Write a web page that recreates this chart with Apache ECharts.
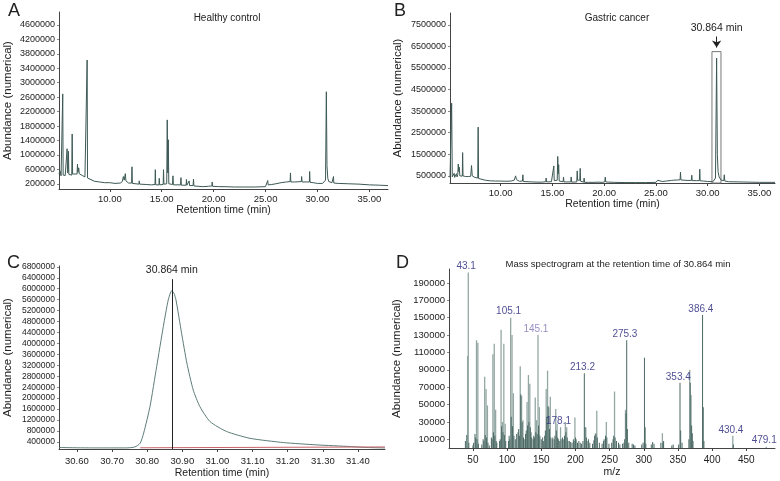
<!DOCTYPE html>
<html>
<head>
<meta charset="utf-8">
<script src="https://cdn.jsdelivr.net/npm/echarts@6/dist/echarts.min.js"></script>
<style>
html,body{margin:0;padding:0;background:#fff;}
#c{width:780px;height:481px;}
</style>
</head>
<body>
<div id="c"></div>
<script>
// Panel A: healthy control chromatogram
var timeA = [5.10,5.20,5.30,5.42,5.46,5.50,5.60,5.70,5.84,5.88,5.93,5.98,6.01,6.05,6.20,6.33,6.37,6.41,6.60,6.84,6.88,6.93,7.00,7.05,7.20,7.40,7.60,7.78,7.81,7.85,8.00,8.50,9.00,9.50,10.00,10.50,11.00,11.20,11.30,11.38,11.45,11.49,11.55,11.80,12.10,12.13,12.17,12.80,12.83,12.87,13.50,14.00,14.35,14.38,14.42,14.73,14.76,14.80,15.14,15.17,15.21,15.48,15.53,15.58,15.63,15.68,16.04,16.08,16.12,16.81,16.85,16.89,17.35,17.38,17.42,17.60,17.64,17.68,18.02,18.06,18.10,18.50,19.00,19.50,19.83,19.86,19.90,20.50,21.00,22.00,23.00,24.00,25.00,25.18,25.21,25.25,25.60,26.00,26.50,27.00,27.37,27.40,27.44,27.80,28.45,28.48,28.52,28.80,29.22,29.25,29.29,29.60,30.00,30.50,30.78,30.86,30.92,31.00,31.10,31.40,31.52,31.55,31.58,32.00,33.00,34.00,35.00,36.00,36.80];
var abundA = [480000,560000,420000,430000,2690000,440000,400000,430000,430000,1170000,500000,560000,1100000,460000,440000,440000,1580000,470000,460000,470000,740000,520000,640000,480000,460000,420000,390000,370000,3630000,360000,330000,270000,250000,230000,230000,210000,220000,260000,400000,300000,350000,480000,280000,220000,220000,670000,210000,190000,280000,190000,180000,170000,180000,590000,170000,170000,350000,170000,180000,590000,190000,200000,1970000,500000,1420000,200000,180000,420000,170000,170000,370000,160000,160000,320000,160000,160000,280000,150000,150000,330000,140000,130000,120000,130000,140000,250000,130000,120000,120000,110000,110000,110000,120000,140000,290000,170000,180000,200000,230000,250000,260000,500000,250000,250000,260000,400000,250000,250000,250000,540000,240000,230000,210000,210000,300000,2750000,700000,350000,260000,230000,220000,400000,220000,210000,200000,190000,170000,160000,150000];

// Panel B: gastric cancer chromatogram
var timeB = [5.10,5.20,5.26,5.32,5.45,5.50,5.55,5.65,5.72,5.78,5.85,5.90,5.95,6.00,6.05,6.20,6.29,6.32,6.36,6.60,6.90,7.10,7.18,7.25,7.50,7.78,7.82,7.86,8.00,8.50,9.00,9.50,10.00,10.50,11.00,11.30,11.44,11.52,11.80,12.10,12.14,12.18,13.00,13.50,14.00,14.35,14.39,14.43,14.90,15.09,15.13,15.17,15.46,15.51,15.56,15.60,15.65,16.03,16.07,16.11,16.77,16.81,16.85,17.35,17.39,17.43,17.64,17.68,17.72,18.02,18.06,18.10,18.50,19.00,19.40,19.45,19.50,19.80,20.05,20.10,20.15,20.45,20.50,20.55,21.00,22.00,23.00,24.00,25.00,25.12,25.16,25.20,25.60,26.00,26.50,26.70,26.73,26.77,27.10,27.33,27.37,27.41,28.00,28.42,28.46,28.50,28.90,29.19,29.23,29.27,29.60,30.00,30.50,30.75,30.86,30.93,31.00,31.10,31.30,31.55,31.60,31.65,32.00,33.00,34.00,35.00,36.50];
var abundB = [420000,480000,3870000,450000,450000,620000,430000,440000,600000,450000,560000,1050000,700000,900000,500000,480000,490000,1580000,500000,470000,470000,480000,980000,500000,430000,400000,2760000,380000,330000,300000,270000,260000,260000,250000,260000,300000,500000,330000,250000,260000,550000,240000,220000,210000,210000,230000,400000,220000,230000,240000,960000,280000,300000,1400000,600000,1020000,260000,230000,450000,220000,220000,450000,210000,220000,730000,300000,300000,850000,250000,210000,400000,200000,200000,200000,210000,300000,200000,200000,220000,440000,220000,210000,300000,200000,200000,190000,190000,190000,200000,210000,300000,220000,240000,260000,290000,300000,360000,300000,310000,320000,670000,310000,290000,290000,530000,280000,280000,280000,810000,270000,260000,240000,230000,400000,5960000,1500000,700000,450000,300000,280000,550000,260000,230000,220000,210000,200000,200000];

// Panel C: zoomed peak
var timeC = [30.55,30.60,30.65,30.70,30.74,30.765,30.78,30.79,30.808,30.827,30.846,30.86,30.870,30.876,30.882,30.898,30.913,30.931,30.95,30.979,31.026,31.093,31.188,31.283,31.378,31.425,31.477];
var abundC = [195000,185000,180000,180000,180000,215000,350000,720000,1690000,3150000,4620000,5590000,5930000,5840000,5590000,4370000,3280000,2300000,1690000,1140000,780000,530000,375000,290000,230000,195000,180000];
var baseC_t = [30.78,31.477];
var baseC_v = [185000,215000];

// Panel D: mass spectrum
var lightMz = [42,43,55,57,67,69,71,79,81,83,91,93,95,97,105,107,109,119,121,123,129,131,133,141,143,145,147,157,159,161,163,171,173,178,185,187,199,215,229,231,245,257,273,327,367,369,430,479];
var lightVal = [106000,202000,124000,121000,82000,68000,49000,108000,120000,44000,136000,30000,120000,28000,150000,130000,63000,94000,60000,32000,53000,84000,74000,58000,32000,130000,47000,68000,89000,47000,59000,45000,28000,24000,30000,24000,35000,24000,17000,43000,30000,65000,44000,17000,90000,61000,14000,1500];
var darkMz = [39,41,44,50,51,53,54,56,58,63,65,66,68,70,72,74,77,78,80,82,84,85,89,90,92,94,96,98,102,103,104,106,108,110,112,114,116,117,118,120,122,124,126,127,128,130,132,134,135,136,138,139,140,142,144,146,148,150,152,153,155,156,158,160,162,164,166,167,169,170,172,174,175,177,179,181,183,184,186,188,189,191,193,195,197,198,200,201,203,205,207,209,211,213,214,216,217,219,221,225,227,228,230,232,235,239,241,242,244,246,249,253,255,256,258,260,263,265,269,271,272,274,275,276,278,283,285,287,297,299,301,302,303,311,313,315,325,328,329,341,343,351,353,354,356,366,368,370,371,372,386,387,388,431];
var darkVal = [8000,15000,6000,3000,6000,16000,12000,10000,5000,4000,10000,8000,15000,12000,6000,3000,12000,10000,18000,14000,8000,6000,8000,10000,25000,18000,15000,8000,8000,14000,10000,36000,25000,14000,10000,16000,18000,22000,14000,62000,30000,12000,10000,16000,20000,26000,30000,24000,18000,12000,10000,14000,12000,18000,16000,26000,14000,10000,12000,8000,14000,20000,36000,48000,22000,12000,10000,12000,10000,14000,20000,12000,10000,8000,10000,12000,10000,14000,18000,12000,8000,8000,7000,6000,10000,8000,12000,10000,6000,8000,6000,5000,8000,86000,24000,12000,8000,10000,6000,5000,9000,14000,16000,12000,6000,5000,8000,10000,14000,12000,5000,6000,10000,14000,12000,8000,6000,4000,5000,6000,10000,40000,124000,22000,6000,5000,4000,3000,4000,6000,104000,24000,5000,4000,7000,5000,6000,6000,8000,3000,4000,4000,75000,20000,6000,10000,75000,26000,17000,8000,153000,47000,8000,4000];
var peakLabelMz = [43.1,105.1,145.1,178.1,213.2,275.3,353.4,386.4,430.4,479.1];
var peakLabelVal = [202000,150000,130000,24000,86000,124000,75000,153000,14000,1500];

// tick labels
var ticksA_x = [10,15,20,25,30,35];
var ticksA_y = [200000,600000,1000000,1400000,1800000,2200000,2600000,3000000,3400000,3800000,4200000,4600000];
var ticksB_y = [500000,1500000,2500000,3500000,4500000,5500000,6500000,7500000];
var ticksC_x = [30.6,30.7,30.8,30.9,31.0,31.1,31.2,31.3,31.4];
var ticksC_y = [400000,800000,1200000,1600000,2000000,2400000,2800000,3200000,3600000,4000000,4400000,4800000,5200000,5600000,6000000,6400000,6800000];
var ticksD_x = [50,100,150,200,250,300,350,400,450];
var ticksD_y = [10000,30000,50000,70000,90000,110000,130000,150000,170000,190000];

function zip(a, b) { return a.map(function (v, i) { return [v, b[i]]; }); }

var FONT = 'Liberation Sans, Arial, sans-serif';
var AX = '#444';
var TXT = '#222';
var plain = function (v) { return String(Math.round(v)); };
var fmt2 = function (v) { return v.toFixed(2); };

function xAx(grid, min, max, ticks, fmt, fs, margin, name, nameGap) {
  return {
    type: 'value', gridIndex: grid, min: min, max: max,
    name: name, nameLocation: 'middle', nameGap: nameGap,
    nameTextStyle: { fontSize: 10.5, color: TXT, fontFamily: FONT },
    axisLine: { lineStyle: { color: AX, width: 1 } },
    axisTick: { show: true, customValues: ticks, length: 3, lineStyle: { color: AX } },
    axisLabel: { customValues: ticks, formatter: fmt, fontSize: fs, color: TXT, fontFamily: FONT, margin: margin },
    splitLine: { show: false }
  };
}
function yAx(grid, min, max, ticks, fs, nameGap) {
  return {
    type: 'value', gridIndex: grid, min: min, max: max,
    name: 'Abundance (numerical)', nameLocation: 'middle', nameGap: nameGap, nameRotate: 90,
    nameTextStyle: { fontSize: 11.5, color: TXT, fontFamily: FONT },
    axisLine: { show: true, lineStyle: { color: AX, width: 1 } },
    axisTick: { show: true, customValues: ticks, length: 2, lineStyle: { color: '#888' } },
    axisLabel: { customValues: ticks, formatter: plain, fontSize: fs, color: TXT, fontFamily: FONT, margin: 4 },
    splitLine: { show: false }
  };
}

var chart = echarts.init(document.getElementById('c'), null, { renderer: 'canvas' });
var letter = { fontSize: 18, fontWeight: 'normal', color: TXT, fontFamily: FONT };
var ttl = { fontSize: 10, fontWeight: 'normal', color: TXT, fontFamily: FONT };
var labelColors = peakLabelMz.map(function (m, i) { return i === 2 ? '#7a70b5' : '#22227a'; });

var option = {
  animation: false,
  backgroundColor: '#fff',
  textStyle: { fontFamily: FONT },
  title: [
    { text: 'A', left: 3, top: -3, textStyle: letter },
    { text: 'B', left: 389, top: -3, textStyle: letter },
    { text: 'C', left: 2, top: 249, textStyle: letter },
    { text: 'D', left: 391, top: 249, textStyle: letter },
    { text: 'Healthy control', left: 222, top: 8, textAlign: 'center', textStyle: ttl },
    { text: 'Gastric cancer', left: 612, top: 8, textAlign: 'center', textStyle: ttl },
    { text: 'Mass spectrogram at the retention time of 30.864 min', left: 613, top: 254, textAlign: 'center', textStyle: { fontSize: 9.5, fontWeight: 'normal', color: TXT, fontFamily: FONT } }
  ],
  grid: [
    { left: 59, top: 12, width: 329, height: 177 },
    { left: 450, top: 13, width: 325, height: 170 },
    { left: 59, top: 266, width: 326, height: 183 },
    { left: 449, top: 269, width: 326, height: 179 }
  ],
  xAxis: [
    xAx(0, 5.1, 36.8, ticksA_x, fmt2, 9.5, 5, 'Retention time (min)', 16),
    xAx(1, 5.1, 36.5, ticksA_x, fmt2, 9.5, 5, 'Retention time (min)', 16),
    xAx(2, 30.549, 31.477, ticksC_x, fmt2, 9.5, 7, 'Retention time (min)', 19),
    xAx(3, 15, 492, ticksD_x, plain, 10, 7, 'm/z', 19)
  ],
  yAxis: [
    yAx(0, 55000, 4960000, ticksA_y, 9, 45),
    yAx(1, 170000, 8050000, ticksB_y, 9, 46),
    yAx(2, 140000, 6830000, ticksC_y, 8.5, 45),
    yAx(3, 0, 206000, ticksD_y, 9.5, 46)
  ],
  series: [
    {
      type: 'line', xAxisIndex: 0, yAxisIndex: 0, data: zip(timeA, abundA),
      symbol: 'none', lineStyle: { color: '#3d5955', width: 1 }
    },
    {
      type: 'line', xAxisIndex: 1, yAxisIndex: 1, data: zip(timeB, abundB), clip: false,
      symbol: 'none', lineStyle: { color: '#3d5955', width: 1 },
      markArea: {
        silent: true,
        itemStyle: { color: 'rgba(0,0,0,0)', borderColor: '#777', borderWidth: 1 },
        data: [[{ coord: [30.41, 0] }, { coord: [31.28, 6260000] }]]
      },
      markLine: {
        silent: true, symbol: ['none', 'arrow'], symbolSize: 7,
        lineStyle: { color: '#222', width: 1, type: 'solid' },
        label: { show: true, position: 'start', formatter: '30.864 min', fontSize: 10.5, color: TXT, fontFamily: FONT, distance: 3 },
        data: [[{ coord: [30.86, 6960000], symbol: 'none' }, { coord: [30.86, 6450000], symbol: 'arrow', symbolSize: 7 }]]
      }
    },
    {
      type: 'line', xAxisIndex: 2, yAxisIndex: 2, data: zip(timeC, abundC),
      symbol: 'none', smooth: 0.2, lineStyle: { color: '#5d7c77', width: 1 },
      markLine: {
        silent: true, symbol: 'none',
        lineStyle: { color: '#222', width: 1, type: 'solid' },
        label: { show: true, position: 'end', formatter: '30.864 min', fontSize: 10.5, color: TXT, fontFamily: FONT, distance: 4 },
        data: [[{ coord: [30.87, 140000] }, { coord: [30.87, 6350000] }]]
      }
    },
    {
      type: 'line', xAxisIndex: 2, yAxisIndex: 2, data: zip(baseC_t, baseC_v),
      symbol: 'none', lineStyle: { color: '#c8626a', width: 1 }
    },
    {
      type: 'bar', xAxisIndex: 3, yAxisIndex: 3, data: zip(lightMz, lightVal),
      barWidth: 1.3, barGap: '-100%', itemStyle: { color: '#94a8a3' }
    },
    {
      type: 'bar', xAxisIndex: 3, yAxisIndex: 3, data: zip(darkMz, darkVal),
      barWidth: 1, barGap: '-100%', itemStyle: { color: '#4a6863' }
    },
    {
      type: 'scatter', xAxisIndex: 3, yAxisIndex: 3,
      data: peakLabelMz.map(function (m, i) {
        return { value: [m, peakLabelVal[i]], label: { color: labelColors[i] } };
      }),
      symbolSize: 0, silent: true,
      label: {
        show: true, position: 'top', distance: 1, offset: [-2, 0],
        formatter: function (p) { return p.value[0].toFixed(1); },
        fontSize: 10, fontFamily: FONT
      }
    }
  ]
};
chart.setOption(option);
</script>
</body>
</html>
